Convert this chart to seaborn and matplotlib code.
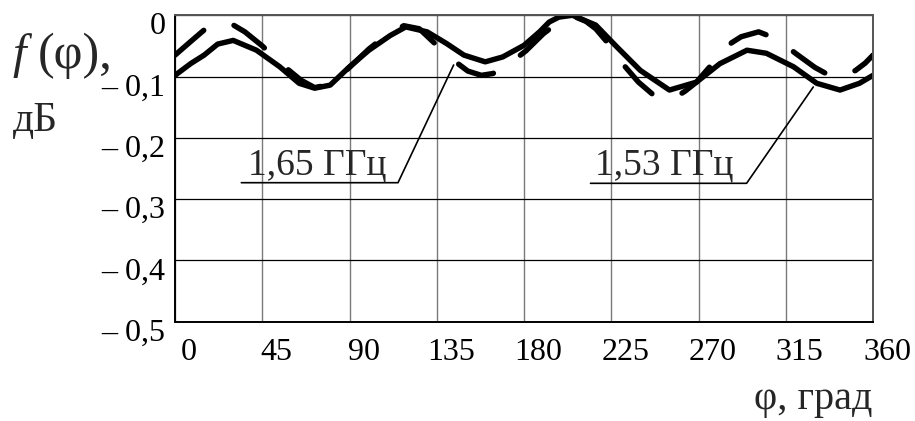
import numpy as np
import pandas as pd
import matplotlib.pyplot as plt
import seaborn as sns
from matplotlib.transforms import ScaledTranslation

# angle, deg and pattern level, dB for the two frequencies
phi_165 = [0, 8, 15, 22, 28, 36, 45, 55, 65, 72, 80, 90, 100, 110, 118, 126, 135, 143,
           151, 158, 164, 172, 181, 190, 200, 206, 212, 217, 224, 230, 239, 246, 252,
           257, 263, 269, 275, 281, 287, 292, 301, 310, 320, 330, 338, 344, 351, 356, 360]
f_165 = [-0.065, -0.043, -0.024, -0.014, -0.012, -0.027, -0.050, -0.080, -0.106, -0.118,
         -0.113, -0.085, -0.055, -0.030, -0.017, -0.022, -0.049, -0.072, -0.091, -0.098,
         -0.095, -0.080, -0.058, -0.030, -0.006, -0.002, -0.010, -0.022, -0.048, -0.076,
         -0.109, -0.128, -0.135, -0.136, -0.124, -0.109, -0.087, -0.065, -0.045, -0.035,
         -0.027, -0.038, -0.062, -0.085, -0.099, -0.101, -0.090, -0.078, -0.065]

phi_153 = [0, 8, 15, 22, 30, 42, 54, 64, 72, 80, 90, 100, 111, 119, 130, 140, 149, 160,
           169, 180, 188, 193, 198, 205, 217, 228, 240, 255, 269, 281, 295, 305, 319, 331,
           343, 353, 360]
f_153 = [-0.098, -0.079, -0.065, -0.047, -0.041, -0.057, -0.084, -0.111, -0.119, -0.114,
         -0.084, -0.057, -0.033, -0.019, -0.027, -0.046, -0.065, -0.076, -0.068, -0.049,
         -0.027, -0.011, -0.003, 0.0, -0.016, -0.052, -0.090, -0.122, -0.109, -0.079,
         -0.057, -0.062, -0.084, -0.111, -0.122, -0.111, -0.098]

x_ticks = [0, 45, 90, 135, 180, 225, 270, 315, 360]
y_ticks = [0, -0.1, -0.2, -0.3, -0.4, -0.5]
y_labels = ["0", "– 0,1", "– 0,2", "– 0,3", "– 0,4", "– 0,5"]

sns.set_style("white")
plt.rcParams['font.family'] = ['Liberation Serif', 'DejaVu Serif']

fig = plt.figure(figsize=(9.15, 4.21), dpi=100)
ax = fig.add_axes([0.1913, 0.2359, 0.7628, 0.7278])

df_165 = pd.DataFrame({'phi': phi_165, 'f': f_165})
df_153 = pd.DataFrame({'phi': phi_153, 'f': f_153})

sns.lineplot(data=df_165, x='phi', y='f', ax=ax, color='black', lw=3.9,
             linestyle=(0, (7, 6)), dash_capstyle='round', dash_joinstyle='round')
sns.lineplot(data=df_153, x='phi', y='f', ax=ax, color='black', lw=3.9,
             solid_capstyle='round', solid_joinstyle='round')

ax.set_xlim(0, 360)
ax.set_ylim(-0.5, 0)
ax.set_xticks(x_ticks)
ax.set_xticklabels([str(t) for t in x_ticks])
ax.set_yticks(y_ticks)
ax.set_yticklabels(y_labels)
ax.set_xlabel('')
ax.set_ylabel('')
ax.set_axisbelow(True)
ax.xaxis.grid(True, color='#7a7a7a', lw=1.0)
ax.yaxis.grid(True, color='black', lw=0.9)
ax.tick_params(length=0, labelsize=23, colors='black')
ax.tick_params(axis='x', pad=12)
ax.tick_params(axis='y', pad=7)
for s in ['left', 'bottom']:
    ax.spines[s].set_color('black')
    ax.spines[s].set_linewidth(1.4)
for s in ['top', 'right']:
    ax.spines[s].set_color('#555555')
    ax.spines[s].set_linewidth(1.4)

# the scanned figure has the tick numbers shifted a little
for lab in ax.get_xticklabels():
    lab.set_transform(lab.get_transform() + ScaledTranslation(0.14, 0, fig.dpi_scale_trans))
for lab in ax.get_yticklabels():
    lab.set_transform(lab.get_transform() + ScaledTranslation(0, -0.08, fig.dpi_scale_trans))

# callouts
ax.plot([34.2, 115.0, 143.7], [-0.2732, -0.2732, -0.0811], color='black', lw=1.2)
ax.plot([214.3, 294.8, 329.2], [-0.2742, -0.2742, -0.117], color='black', lw=1.2)
ax.text(37.4, -0.2606, "1,65 ГГц", fontsize=27, va='baseline', ha='left')
ax.text(216.5, -0.2606, "1,53 ГГц", fontsize=27, va='baseline', ha='left')

W, H = 915, 421
fig.text(12 / W, 1 - 68 / H, "f", fontsize=35, style='italic', va='baseline', ha='left')
fig.text(38 / W, 1 - 68 / H, "(φ),", fontsize=36, va='baseline', ha='left')
fig.text(13 / W, 1 - 121 / H, "дБ", fontsize=30, va='center', ha='left')
fig.text(873 / W, 1 - 400 / H, "φ, град", fontsize=29, va='center', ha='right')

fig.savefig('out.png', dpi=100)
